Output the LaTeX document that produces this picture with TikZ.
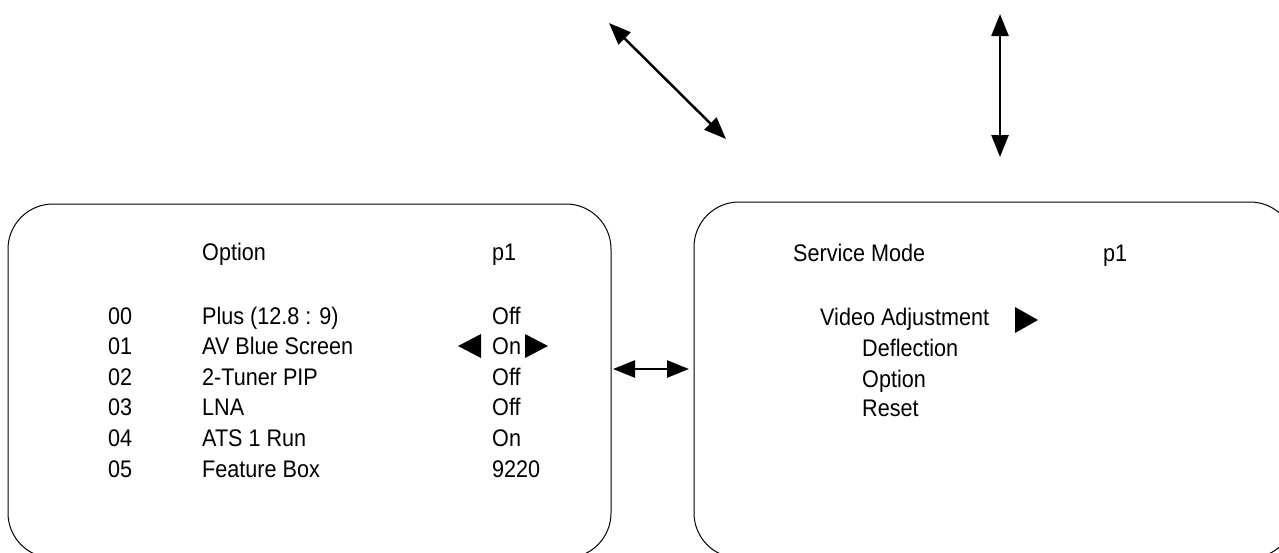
\documentclass[tikz,border=0pt]{standalone}
\usepackage{fontspec}
\setmainfont[FakeStretch=0.9]{Liberation Sans}
\usetikzlibrary{arrows.meta}

\tikzset{
	screen/.style={draw, line width=1pt, rounded corners=45pt, inner sep=0pt},
	menutext/.style={anchor=base west, inner sep=0pt, font=\fontsize{24}{28}\selectfont},
	dblarrow/.style={line width=2.5pt, {Triangle[length=22pt,width=17pt]}-{Triangle[length=22pt,width=17pt]}},
}

\begin{document}
\begin{tikzpicture}[x=1pt, y=-1pt]
		\useasboundingbox (0, 0) rectangle (1279, 552);
		\clip (0, 0) rectangle (1279, 552);

		% the two screens
		\node[screen, minimum width=603pt, minimum height=354pt] (optscreen) at (309.5, 381) {};
		\node[screen, minimum width=601pt, minimum height=356pt] (svcscreen) at (994.5, 380) {};

		% option screen
		\node[menutext] (opttitle) at (202, 260) {Option};
		\node[menutext] (optpage) at (492, 260) {p1};

		\node[menutext] (num00) at (108, 324) {00};
		\node[menutext] (item00) at (202, 324) {Plus (12.8 : 9)};
		\node[menutext] (val00) at (492, 324) {Off};

		\node[menutext] (num01) at (108, 354) {01};
		\node[menutext] (item01) at (202, 354) {AV Blue Screen};
		\node[menutext] (val01) at (492, 354) {On};
		\fill (481, 334) -- (458, 346) -- (481, 358) -- cycle;
		\fill (525, 334) -- (548, 346) -- (525, 358) -- cycle;

		\node[menutext] (num02) at (108, 385) {02};
		\node[menutext] (item02) at (202, 385) {2-Tuner PIP};
		\node[menutext] (val02) at (492, 385) {Off};

		\node[menutext] (num03) at (108, 415) {03};
		\node[menutext] (item03) at (202, 415) {LNA};
		\node[menutext] (val03) at (492, 415) {Off};

		\node[menutext] (num04) at (108, 446) {04};
		\node[menutext] (item04) at (202, 446) {ATS 1 Run};
		\node[menutext] (val04) at (492, 446) {On};

		\node[menutext] (num05) at (108, 477) {05};
		\node[menutext] (item05) at (202, 477) {Feature Box};
		\node[menutext] (val05) at (492, 477) {9220};

		% service screen
		\node[menutext] (svctitle) at (793, 261) {Service Mode};
		\node[menutext] (svcpage) at (1103, 261) {p1};
		\node[menutext] (svcvideo) at (820, 325) {Video Adjustment};
		\fill (1015, 307) -- (1038, 320) -- (1015, 333) -- cycle;
		\node[menutext] (svcdefl) at (862, 356) {Deflection};
		\node[menutext] (svcopt) at (862, 387) {Option};
		\node[menutext] (svcreset) at (862, 416) {Reset};

		% arrows
		\coordinate (diagA) at (609, 23);
		\coordinate (diagB) at (726, 139);
		\coordinate (vertA) at (1000, 14);
		\coordinate (vertB) at (1000, 157);
		\coordinate (horzA) at (613, 369);
		\coordinate (horzB) at (689, 369);
		\draw[dblarrow] (diagA) -- (diagB);
		\draw[dblarrow] (vertA) -- (vertB);
		\draw[dblarrow] (horzA) -- (horzB);
	\end{tikzpicture}
\end{document}
